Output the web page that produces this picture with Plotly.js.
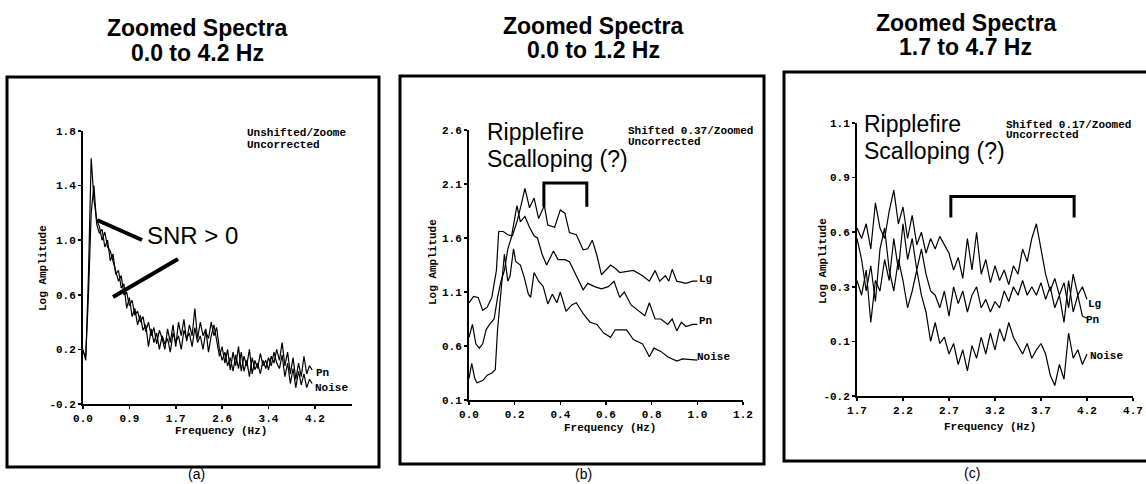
<!DOCTYPE html>
<html><head><meta charset="utf-8">
<script src="https://cdn.plot.ly/plotly-3.0.1.min.js"></script>
<style>html,body{margin:0;padding:0;background:#fff;}#chart{width:1146px;height:484px;}</style>
</head><body><div id="chart"></div>
<script>
// ---------- Panel (a): Zoomed Spectra 0.0 to 4.2 Hz ----------
const freqA = [0.00,0.05,0.10,0.15,0.20,0.25,0.30,0.35,0.40,0.45,0.50,0.55,0.60,0.65,0.70,0.75,0.80,0.85,0.90,0.95,
  1.00,1.05,1.10,1.15,1.20,1.25,1.30,1.35,1.40,1.45,1.50,1.55,1.60,1.65,1.70,1.75,1.80,1.85,1.90,1.95,
  2.00,2.05,2.10,2.15,2.20,2.25,2.30,2.35,2.40,2.45,2.50,2.55,2.60,2.65,2.70,2.75,2.80,2.85,2.90,2.95,
  3.00,3.05,3.10,3.15,3.20,3.25,3.30,3.35,3.40,3.45,3.50,3.55,3.60,3.65,3.70,3.75,3.80,3.85,3.90,3.95,
  4.00,4.05,4.10,4.15,4.20];
const pnA = [0.20,0.12,0.75,1.60,1.30,1.15,1.10,1.00,1.06,0.95,0.92,0.85,0.78,0.70,0.74,0.60,0.62,0.52,0.56,0.45,
  0.48,0.40,0.44,0.33,0.40,0.30,0.36,0.24,0.34,0.28,0.20,0.35,0.25,0.38,0.22,0.40,0.30,0.42,0.26,0.38,
  0.30,0.50,0.28,0.40,0.30,0.35,0.18,0.30,0.38,0.25,0.15,0.22,0.10,0.20,0.05,0.18,0.08,0.22,0.04,0.15,
  0.08,0.20,0.02,0.12,0.06,0.17,0.08,0.12,0.05,0.15,0.10,0.20,0.12,0.25,0.08,0.18,0.02,0.14,-0.02,0.10,
  0.00,0.15,0.02,0.08,0.05];
const noiseA = [0.18,0.15,0.60,1.20,1.40,1.12,1.05,1.08,0.95,1.00,0.85,0.90,0.75,0.78,0.65,0.68,0.50,0.58,0.44,0.50,
  0.38,0.45,0.34,0.38,0.22,0.35,0.25,0.32,0.20,0.30,0.24,0.28,0.18,0.32,0.25,0.30,0.20,0.34,0.28,0.32,
  0.22,0.36,0.25,0.30,0.20,0.33,0.28,0.40,0.30,0.36,0.20,0.12,0.18,0.08,0.14,0.04,0.16,0.06,0.18,0.04,
  0.12,0.00,0.14,0.05,0.10,0.02,0.12,0.06,0.14,0.08,0.18,0.10,0.06,0.16,0.00,0.10,-0.05,0.06,-0.08,0.04,
  -0.06,0.02,-0.08,-0.02,-0.05];
const xTickValsA = [0,0.85,1.7,2.55,3.4,4.25];
const xTickTextA = ['0.0','0.9','1.7','2.6','3.4','4.2'];
const yTickValsA = [-0.2,0.2,0.6,1.0,1.4,1.8];
const yTickTextA = ['-0.2','0.2','0.6','1.0','1.4','1.8'];

// ---------- Panel (b): Zoomed Spectra 0.0 to 1.2 Hz ----------
const lgFreqB = [0.00,0.02,0.04,0.06,0.08,0.10,0.12,0.13,0.15,0.17,0.19,0.21,0.23,0.245,0.265,0.285,0.305,0.33,0.345,0.375,
  0.40,0.42,0.44,0.47,0.50,0.52,0.54,0.56,0.58,0.62,0.64,0.66,0.72,0.76,0.79,0.815,0.835,0.86,0.875,0.89,0.91,0.95,0.98,1.00];
const lgAmpB = [1.00,1.06,1.05,0.93,0.96,1.05,1.30,1.66,1.66,1.63,1.62,1.75,1.92,2.06,1.88,1.97,1.78,1.90,1.72,1.70,
  1.86,1.83,1.65,1.63,1.49,1.50,1.58,1.44,1.26,1.35,1.32,1.28,1.30,1.25,1.20,1.30,1.20,1.25,1.20,1.31,1.20,1.18,1.20,1.20];
const pnFreqB = [0.00,0.015,0.03,0.045,0.06,0.075,0.09,0.11,0.125,0.14,0.155,0.17,0.185,0.20,0.21,0.225,0.245,0.265,0.285,0.30,
  0.32,0.34,0.37,0.39,0.42,0.44,0.47,0.50,0.52,0.55,0.58,0.61,0.635,0.66,0.68,0.71,0.77,0.79,0.815,0.84,0.87,0.89,0.91,0.93,0.95,0.98,1.00];
const pnAmpB = [0.68,0.80,0.62,0.58,0.62,0.75,0.80,0.85,1.05,1.20,1.30,1.50,1.60,1.78,1.90,1.75,1.80,1.70,1.62,1.60,
  1.45,1.35,1.48,1.40,1.40,1.38,1.25,1.12,1.18,1.15,1.13,1.15,1.20,1.05,1.10,0.98,0.88,1.00,0.85,0.85,0.80,0.85,0.74,0.82,0.78,0.80,0.80];
const noiseFreqB = [0.00,0.012,0.025,0.035,0.06,0.08,0.10,0.115,0.125,0.135,0.145,0.155,0.17,0.18,0.195,0.205,0.225,0.24,0.26,0.27,
  0.285,0.305,0.325,0.345,0.365,0.385,0.40,0.425,0.45,0.47,0.50,0.53,0.56,0.59,0.62,0.64,0.69,0.72,0.76,0.79,0.81,0.84,0.87,0.91,0.935,0.98,1.00];
const noiseAmpB = [0.30,0.44,0.30,0.26,0.28,0.33,0.35,0.38,0.75,1.00,1.20,1.45,1.20,1.25,1.50,1.38,1.35,1.25,1.08,1.05,
  1.28,1.20,1.15,0.99,1.08,1.00,1.10,0.92,0.98,1.00,0.90,0.82,0.80,0.72,0.68,0.75,0.75,0.66,0.62,0.50,0.58,0.55,0.50,0.46,0.48,0.47,0.47];
const xTickValsB = [0,0.2,0.4,0.6,0.8,1.0,1.2];
const xTickTextB = ['0.0','0.2','0.4','0.6','0.8','1.0','1.2'];
const yTickValsB = [0.1,0.6,1.1,1.6,2.1,2.6];
const yTickTextB = ['0.1','0.6','1.1','1.6','2.1','2.6'];

// ---------- Panel (c): Zoomed Spectra 1.7 to 4.7 Hz ----------
const freqC = [1.70,1.75,1.80,1.85,1.90,1.95,2.00,2.05,2.10,2.15,2.20,2.25,2.30,2.35,2.40,2.45,2.50,2.55,2.60,2.65,
  2.70,2.75,2.80,2.85,2.90,2.95,3.00,3.05,3.10,3.15,3.20,3.25,3.30,3.35,3.40,3.45,3.50,3.55,3.60,3.65,
  3.70,3.75,3.80,3.85,3.90,3.95,4.00,4.05,4.10,4.15,4.20];
const lgC = [0.60,0.55,0.62,0.50,0.72,0.60,0.55,0.68,0.78,0.62,0.70,0.55,0.66,0.52,0.58,0.48,0.55,0.50,0.56,0.52,
  0.48,0.40,0.46,0.36,0.55,0.40,0.58,0.38,0.45,0.34,0.42,0.35,0.40,0.33,0.42,0.38,0.50,0.44,0.55,0.62,
  0.50,0.38,0.30,0.36,0.28,0.34,0.22,0.38,0.28,0.32,0.26];
const pnC = [0.35,0.28,0.40,0.15,0.35,0.30,0.45,0.35,0.55,0.40,0.62,0.45,0.55,0.40,0.50,0.38,0.30,0.28,0.22,0.30,
  0.18,0.32,0.24,0.30,0.20,0.28,0.32,0.22,0.26,0.20,0.25,0.22,0.30,0.25,0.32,0.28,0.35,0.28,0.32,0.28,
  0.34,0.26,0.32,0.22,0.28,0.15,0.35,0.20,0.28,0.18,0.17];
const noiseC = [0.55,0.45,0.30,0.42,0.25,0.50,0.60,0.40,0.30,0.45,0.35,0.22,0.30,0.40,0.28,0.20,0.06,0.15,0.05,0.08,
  0.00,0.05,-0.05,0.02,-0.08,0.04,-0.02,0.08,0.00,0.10,0.02,0.12,0.06,0.15,0.08,0.04,0.00,0.05,-0.02,0.02,
  0.05,0.00,-0.10,-0.15,-0.05,-0.12,0.10,-0.02,0.02,-0.05,0.00];
const xTickValsC = [1.7,2.2,2.7,3.2,3.7,4.2,4.7];
const xTickTextC = ['1.7','2.2','2.7','3.2','3.7','4.2','4.7'];
const yTickValsC = [-0.2,0.06,0.32,0.58,0.84,1.1];
const yTickTextC = ['-0.2','0.1','0.3','0.6','0.9','1.1'];

// ---------- helpers ----------
const W = 1146, H = 484;
const px = x => x / W;
const py = y => 1 - y / H;
const MONO = '"Liberation Mono","Courier New",Courier,monospace';
const SANS = '"Liberation Sans",Arial,Helvetica,sans-serif';
const monoFont = {family: MONO, size: 11, color: '#000', weight: 'bold'};

function axisCfg(domain, range, vals, text, anchor) {
  return {domain, range, anchor, tickmode: 'array', tickvals: vals, ticktext: text,
    showline: true, linewidth: 2, linecolor: '#000', ticks: 'outside', ticklen: 3, tickwidth: 1.5,
    tickcolor: '#000', showgrid: false, zeroline: false, tickfont: monoFont, fixedrange: true};
}
function line(x, y, xa, ya) {
  return {type: 'scatter', mode: 'lines', x, y, xaxis: xa, yaxis: ya,
    line: {color: '#000', width: 1.2}, showlegend: false, hoverinfo: 'skip'};
}

const traces = [
  line(freqA, pnA, 'x', 'y'),
  line(freqA, noiseA, 'x', 'y'),
  line(lgFreqB, lgAmpB, 'x2', 'y2'),
  line(pnFreqB, pnAmpB, 'x2', 'y2'),
  line(noiseFreqB, noiseAmpB, 'x2', 'y2'),
  line(freqC, lgC, 'x3', 'y3'),
  line(freqC, pnC, 'x3', 'y3'),
  line(freqC, noiseC, 'x3', 'y3')
];

function pAnn(x, y, text, font, extra) {
  return Object.assign({xref: 'paper', yref: 'paper', x: px(x), y: py(y), text, font,
    showarrow: false, xanchor: 'center', yanchor: 'middle'}, extra || {});
}
function dAnn(xr, yr, x, y, text) {
  return {xref: xr, yref: yr, x, y, text, font: monoFont, showarrow: false, xanchor: 'left', yanchor: 'middle'};
}
const titleFont = {family: SANS, size: 23, color: '#000', weight: 'bold'};
const bigFont = {family: SANS, size: 23, color: '#000'};
const capFont = {family: SANS, size: 14, color: '#000'};

const annotations = [
  pAnn(197, 28, 'Zoomed Spectra', titleFont), pAnn(197, 53, '0.0 to 4.2 Hz', titleFont),
  pAnn(593, 26, 'Zoomed Spectra', titleFont), pAnn(593, 50, '0.0 to 1.2 Hz', titleFont),
  pAnn(966, 23, 'Zoomed Spectra', titleFont), pAnn(966, 47, '1.7 to 4.7 Hz', titleFont),
  pAnn(196, 474, '(a)', capFont), pAnn(583, 474, '(b)', capFont), pAnn(972, 473, '(c)', capFont),
  // axis titles
  pAnn(43, 268, 'Log Amplitude', monoFont, {textangle: -90}),
  pAnn(221, 431, 'Frequency (Hz)', monoFont),
  pAnn(433, 262, 'Log Amplitude', monoFont, {textangle: -90}),
  pAnn(610, 428, 'Frequency (Hz)', monoFont),
  pAnn(823, 261, 'Log Amplitude', monoFont, {textangle: -90}),
  pAnn(990, 427, 'Frequency (Hz)', monoFont),
  // corner notes
  pAnn(245, 133, 'Unshifted/Zoome', monoFont, {xanchor: 'left'}),
  pAnn(245, 145, 'Uncorrected', monoFont, {xanchor: 'left'}),
  pAnn(626, 131, 'Shifted 0.37/Zoomed', monoFont, {xanchor: 'left'}),
  pAnn(626, 142, 'Uncorrected', monoFont, {xanchor: 'left'}),
  pAnn(1004, 125, 'Shifted 0.17/Zoomed', monoFont, {xanchor: 'left'}),
  pAnn(1004, 135, 'Uncorrected', monoFont, {xanchor: 'left'}),
  // callouts
  pAnn(192, 236, 'SNR &gt; 0', {family: SANS, size: 24, color: '#000'}),
  pAnn(485, 132, 'Ripplefire', bigFont, {xanchor: 'left'}),
  pAnn(485, 159, 'Scalloping (?)', bigFont, {xanchor: 'left'}),
  pAnn(862, 124, 'Ripplefire', bigFont, {xanchor: 'left'}),
  pAnn(862, 151, 'Scalloping (?)', bigFont, {xanchor: 'left'}),
  // curve labels
  dAnn('x', 'y', 4.24, 0.03, 'Pn'),
  dAnn('x', 'y', 4.21, -0.08, 'Noise'),
  dAnn('x2', 'y2', 1.0, 1.22, 'Lg'),
  dAnn('x2', 'y2', 1.0, 0.83, 'Pn'),
  dAnn('x2', 'y2', 0.99, 0.50, 'Noise'),
  dAnn('x3', 'y3', 4.19, 0.24, 'Lg'),
  dAnn('x3', 'y3', 4.17, 0.16, 'Pn'),
  dAnn('x3', 'y3', 4.21, -0.01, 'Noise')
];

const box = (x0, y0, x1, y1) => ({type: 'rect', xref: 'paper', yref: 'paper',
  x0: px(x0), x1: px(x1), y0: py(y1), y1: py(y0), line: {color: '#000', width: 3}, fillcolor: 'rgba(0,0,0,0)'});
const seg = (x0, y0, x1, y1, w) => ({type: 'line', xref: 'paper', yref: 'paper',
  x0: px(x0), y0: py(y0), x1: px(x1), y1: py(y1), line: {color: '#000', width: w}});
const bracket = (xr, yr, a, b, top, bot) => ({type: 'path', xref: xr, yref: yr,
  path: `M ${a},${bot} L ${a},${top} L ${b},${top} L ${b},${bot}`, line: {color: '#000', width: 3}});

const shapes = [
  box(7, 77, 379, 467),
  box(400, 76, 764, 464),
  box(784, 72, 1170, 461),
  seg(97, 220, 142, 240, 4),
  seg(113, 297, 178, 259, 4),
  bracket('x2', 'y2', 0.328, 0.516, 2.11, 1.89),
  bracket('x3', 'y3', 2.72, 4.06, 0.75, 0.65)
];

const layout = {
  width: W, height: H, margin: {l: 0, r: 0, t: 0, b: 0},
  paper_bgcolor: '#fff', plot_bgcolor: 'rgba(0,0,0,0)', showlegend: false,
  xaxis: axisCfg([px(83), px(352)], [0, 4.93], xTickValsA, xTickTextA, 'y'),
  yaxis: axisCfg([py(404), py(131)], [-0.2, 1.8], yTickValsA, yTickTextA, 'x'),
  xaxis2: axisCfg([px(469), px(743)], [0, 1.2], xTickValsB, xTickTextB, 'y2'),
  yaxis2: axisCfg([py(400), py(130)], [0.1, 2.6], yTickValsB, yTickTextB, 'x2'),
  xaxis3: axisCfg([px(857), px(1133)], [1.7, 4.7], xTickValsC, xTickTextC, 'y3'),
  yaxis3: axisCfg([py(396), py(123)], [-0.2, 1.1], yTickValsC, yTickTextC, 'x3'),
  annotations, shapes
};
Plotly.newPlot('chart', traces, layout, {staticPlot: true, displayModeBar: false});
</script></body></html>
